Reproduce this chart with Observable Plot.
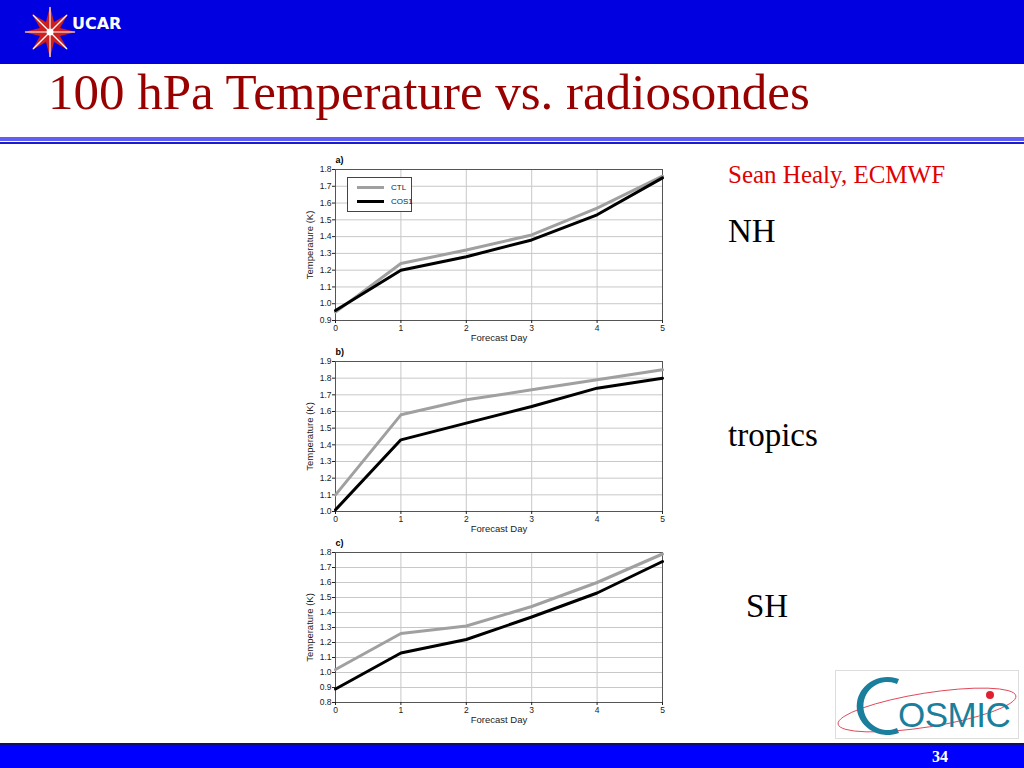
<!DOCTYPE html>
<html>
<head>
<meta charset="utf-8">
<script src="https://cdn.jsdelivr.net/npm/d3@7"></script>
<script src="https://cdn.jsdelivr.net/npm/@observablehq/plot@0.6"></script>
<style>
  html, body { margin: 0; padding: 0; background: #fff; }
  #slide { position: relative; width: 1024px; height: 768px; overflow: hidden; background: #fff; }
  .abs { position: absolute; }
  #header { left: 0; top: 0; width: 1024px; height: 64px; background: #0000e0; }
  #title { left: 48px; top: 62px; font-family: "Liberation Serif", "Times New Roman", serif; font-size: 51px; color: #990000; white-space: nowrap; line-height: 60px; }
  #rule1 { left: 0; top: 137px; width: 1024px; height: 4px; background: #5f5ff5; }
  #rule2 { left: 0; top: 142px; width: 1024px; height: 2px; background: #1d1dc8; }
  #footline { left: 0; top: 743px; width: 1024px; height: 2px; background: #101060; }
  #footer { left: 0; top: 745px; width: 1024px; height: 23px; background: #0000ff; }
  #pagenum { left: 900px; top: 745px; width: 80px; text-align: center; font-family: "Liberation Serif", serif; font-weight: bold; font-size: 16px; color: #fff; line-height: 24px; }
  .side { font-family: "Liberation Serif", "Times New Roman", serif; white-space: nowrap; }
  .panel { position: absolute; }
  .panel svg { overflow: visible; }
  .panel g[aria-label="y-axis label"], .panel g[aria-label="x-axis label"] { font-size: 9.5px; }
  #legend { left: 347px; top: 177px; width: 65px; height: 35px; border: 1px solid #444; background: #fff; font-family: "Liberation Sans", Arial, sans-serif; font-size: 8px; color: #222; box-sizing: border-box; }
  .lrow { position: absolute; left: 9px; display: flex; align-items: center; }
  .lline { width: 27px; height: 3px; margin-right: 7px; }
</style>
</head>
<body>
<div id="slide">
  <div id="header" class="abs"></div>
  <svg class="abs" style="left:22px;top:4px" width="110" height="56" viewBox="0 0 110 56">
    <g transform="translate(28,28)">
      <polygon fill="#cc2020" points="0,-26 4,-10 18,-18 10,-4 26,0 10,4 18,18 4,10 0,26 -4,10 -18,18 -10,4 -26,0 -10,-4 -18,-18 -4,-10"/>
      <g stroke="#ffffff" stroke-width="1.2">
        <line x1="0" y1="-25" x2="0" y2="25"/>
        <line x1="-25" y1="0" x2="25" y2="0"/>
        <line x1="-17" y1="-17" x2="17" y2="17"/>
        <line x1="-17" y1="17" x2="17" y2="-17"/>
      </g>
      <circle r="3.5" fill="#ffffff"/>
    </g>
    <text x="50" y="25" fill="#ffffff" font-family="DejaVu Sans, Liberation Sans, Arial, sans-serif" font-weight="bold" font-size="16" letter-spacing="0">UCAR</text>
  </svg>
  <div id="title" class="abs">100 hPa Temperature vs. radiosondes</div>
  <div id="rule1" class="abs"></div>
  <div id="rule2" class="abs"></div>

  <div class="abs side" style="left:728px;top:161px;font-size:25px;color:#e00000;line-height:28px">Sean Healy, ECMWF</div>
  <div class="abs side" style="left:728px;top:212px;font-size:33px;color:#000;line-height:38px">NH</div>
  <div class="abs side" style="left:728px;top:416px;font-size:33px;color:#000;line-height:38px">tropics</div>
  <div class="abs side" style="left:746px;top:587px;font-size:33px;color:#000;line-height:38px">SH</div>

  <div id="pa" class="panel" style="left:300px;top:150px"></div>
  <div id="pb" class="panel" style="left:300px;top:342px"></div>
  <div id="pc" class="panel" style="left:300px;top:533px"></div>

  <div id="legend" class="abs">
    <div class="lrow" style="top:5px"><div class="lline" style="background:#a0a0a0"></div><span>CTL</span></div>
    <div class="lrow" style="top:19px"><div class="lline" style="background:#000"></div><span>COS1</span></div>
  </div>

  <svg class="abs" style="left:835px;top:670px" width="186" height="72" viewBox="0 0 186 72">
    <rect x="0.5" y="0.5" width="183" height="68" fill="#fff" stroke="#dddddd"/>
    <ellipse cx="92" cy="40" rx="90" ry="17" transform="rotate(-9 92 40)" fill="none" stroke="#e04050" stroke-width="0.9"/>
    <path d="M 64 9 A 31 29 0 1 0 64 63 L 62 58 A 24 24 0 1 1 62 14 Z" fill="#1a7f9c"/>
    <text x="63" y="57" fill="#1a7f9c" font-family="Liberation Sans, Arial, sans-serif" font-size="35" letter-spacing="-0.5">OSMIC</text>
    <circle cx="155" cy="25" r="4" fill="#e02030"/>
  </svg>

  <div id="footline" class="abs"></div>
  <div id="footer" class="abs"></div>
  <div id="pagenum" class="abs">34</div>
</div>

<script>
// ---- data ----
const days = [0, 1, 2, 3, 4, 5];
const seriesNames = ["CTL", "COS1"];

const ctlNH   = [0.95, 1.24, 1.32, 1.41, 1.57, 1.76];
const cos1NH  = [0.96, 1.20, 1.28, 1.38, 1.53, 1.75];
const ctlTR   = [1.10, 1.58, 1.67, 1.73, 1.79, 1.85];
const cos1TR  = [1.01, 1.43, 1.53, 1.63, 1.74, 1.80];
const ctlSH   = [1.02, 1.26, 1.31, 1.44, 1.60, 1.79];
const cos1SH  = [0.89, 1.13, 1.22, 1.37, 1.53, 1.74];

const yTicksA = [0.9, 1.0, 1.1, 1.2, 1.3, 1.4, 1.5, 1.6, 1.7, 1.8];
const yTicksB = [1.0, 1.1, 1.2, 1.3, 1.4, 1.5, 1.6, 1.7, 1.8, 1.9];
const yTicksC = [0.8, 0.9, 1.0, 1.1, 1.2, 1.3, 1.4, 1.5, 1.6, 1.7, 1.8];

const panelLabels = ["a)", "b)", "c)"];

function table(ctl, cos1) {
  const rows = [];
  days.forEach((d, i) => rows.push({day: d, value: ctl[i], series: "CTL"}));
  days.forEach((d, i) => rows.push({day: d, value: cos1[i], series: "COS1"}));
  return rows;
}

function panel(ctl, cos1, yTicks, label, height, marginBottom) {
  const data = table(ctl, cos1);
  const ydom = [yTicks[0], yTicks[yTicks.length - 1]];
  return Plot.plot({
    width: 372,
    height: height,
    marginLeft: 35,
    marginRight: 10,
    marginTop: 19,
    marginBottom: marginBottom,
    style: {fontFamily: "Liberation Sans, Arial, sans-serif", fontSize: "8.5px", background: "transparent", color: "#222"},
    x: {domain: [0, 5]},
    y: {domain: ydom},
    color: {domain: seriesNames, range: ["#a0a0a0", "#000000"]},
    marks: [
      Plot.gridX(days, {stroke: "#c8c8c8", strokeOpacity: 1}),
      Plot.gridY(yTicks, {stroke: "#c8c8c8", strokeOpacity: 1}),
      Plot.frame({stroke: "#555"}),
      Plot.axisX(days, {tickSize: 3, tickPadding: 1, tickFormat: d => String(d), label: "Forecast Day", labelAnchor: "center", labelOffset: 20, labelArrow: "none"}),
      Plot.axisY(yTicks, {tickSize: 3, tickPadding: 1, tickFormat: d3.format(".1f"), label: "Temperature (K)", labelAnchor: "center", labelOffset: 29, labelArrow: "none"}),
      Plot.line(data, {x: "day", y: "value", stroke: "series", z: "series", strokeWidth: 3, strokeLinejoin: "round"}),
      Plot.text([label], {frameAnchor: "top-left", dy: -13, dx: 0, text: d => d, fontWeight: "bold", fontSize: 9, textAnchor: "start", fill: "#000"})
    ]
  });
}

document.getElementById("pa").append(panel(ctlNH, cos1NH, yTicksA, panelLabels[0], 192, 22));
document.getElementById("pb").append(panel(ctlTR, cos1TR, yTicksB, panelLabels[1], 191, 22));
document.getElementById("pc").append(panel(ctlSH, cos1SH, yTicksC, panelLabels[2], 191, 22));
</script>
</body>
</html>
